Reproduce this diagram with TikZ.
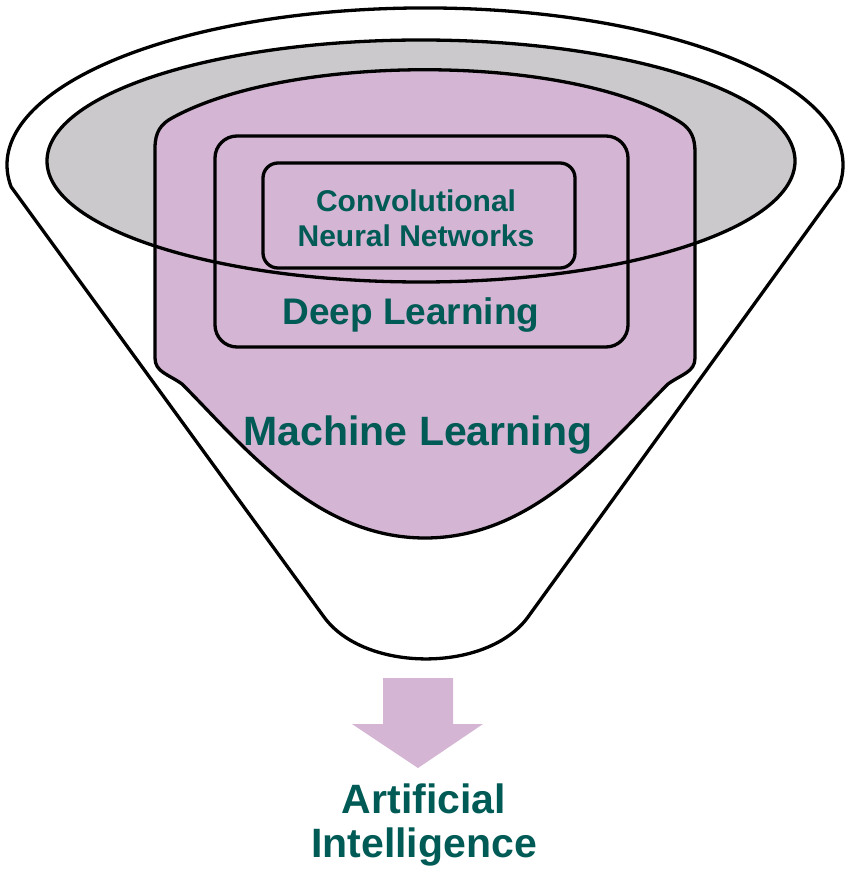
\documentclass[tikz,border=0pt]{standalone}
\usepackage{fontspec}
\setmainfont{Liberation Sans}
\definecolor{mlpink}{RGB}{212,181,212}
\definecolor{rimgray}{RGB}{204,201,204}
\definecolor{labelteal}{RGB}{0,90,85}
\tikzset{
  outline/.style={draw=black, line width=3.3pt, line join=round},
  label/.style={text=labelteal, font=\bfseries, inner sep=0pt, align=center},
}
\begin{document}
\begin{tikzpicture}[x=1pt,y=1pt]
\useasboundingbox (0,0) rectangle (850,-874);
% outer funnel
\path[outline, fill=white] (11.1,-186.8) arc[start angle=188, end angle=-8, x radius=418, y radius=157]
  -- (528,-617) .. controls (487.3,-672.9) and (364.7,-672.9) .. (324,-617) -- cycle;
% gray rim fill
\fill[rimgray] (421,-161) ellipse [x radius=374, y radius=121];
% machine learning shape
\path[outline, fill=mlpink] (155,-358) -- (155,-148)
  .. controls (155,-132) and (161,-124) .. (172,-118)
  .. controls (290,-53) and (570,-53) .. (680,-122)
  .. controls (691,-129) and (695,-138) .. (695,-152)
  -- (695,-358)
  .. controls (695,-372) and (682,-374) .. (668,-384)
  .. controls (608,-444) and (535,-538) .. (425,-538)
  .. controls (315,-538) and (242,-444) .. (182,-384)
  .. controls (168,-374) and (155,-372) .. (155,-358) -- cycle;
% rim outline
\draw[outline] (421,-161) ellipse [x radius=374, y radius=121];
% deep learning and CNN boxes
\draw[outline, rounded corners=22pt] (215,-136) rectangle (628,-347);
\draw[outline, rounded corners=15pt] (263,-163) rectangle (575,-268);
% arrow
\fill[mlpink] (383,-678) -- (453,-678) -- (453,-724) -- (483,-724) -- (418,-768) -- (352,-724) -- (383,-724) -- cycle;
% labels
\node[label, anchor=base, font=\bfseries\fontsize{30}{35}\selectfont] (cnn) at (416,-247) {Convolutional\\Neural Networks};
\node[label, anchor=base, font=\bfseries\fontsize{37}{44}\selectfont] (dl) at (411,-324) {Deep Learning};
\node[label, anchor=base, font=\bfseries\fontsize{41}{48}\selectfont] (ml) at (418,-445) {Machine Learning};
\node[label, anchor=base, font=\bfseries\fontsize{41}{44}\selectfont] (ai) at (424,-857) {Artificial\\Intelligence};
\end{tikzpicture}
\end{document}
